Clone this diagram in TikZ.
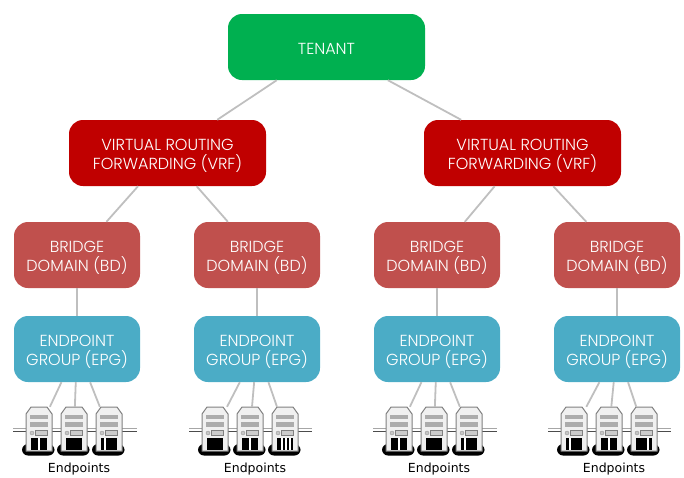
\documentclass[tikz,border=0pt]{standalone}
\usepackage{fontspec}
\setmainfont{Poppins Light}
\newfontfamily\labelfont{DejaVu Sans}
\definecolor{tenantgreen}{HTML}{00B050}
\definecolor{vrfred}{HTML}{C00000}
\definecolor{bdred}{HTML}{C0504D}
\definecolor{epgblue}{HTML}{4BACC6}
\definecolor{linkgrey}{HTML}{BFBFBF}

\tikzset{
	box node/.style={rectangle,rounded corners=14pt,text=white,align=center,
		font=\fontsize{16}{19.5}\selectfont,inner sep=0pt},
	big node/.style={box node,minimum width=197pt,minimum height=66pt},
	small node/.style={box node,minimum width=126pt,minimum height=66pt},
	link/.style={draw=linkgrey,line width=1.8pt},
	end label/.style={font=\labelfont\fontsize{12.5}{14}\selectfont},
	srv box/.style={rectangle,minimum width=26pt,minimum height=46pt,inner sep=0pt},
	pics/srvicon/.style={code={
		\fill[black,rounded corners=6pt] (-17,13) rectangle (15.5,24.5);
		\filldraw[draw=gray,fill=gray!12,line width=1pt] (-13,20) -- (-13,-17) -- (-8,-24) -- (8,-24) -- (13,-17) -- (13,20) -- cycle;
		\fill[gray!65] (-9,-16) rectangle (9,-12);
		\fill[gray!65] (-9,-9) rectangle (9,-4.5);
		\filldraw[draw=gray!80,fill=gray!45] (-7,2) circle (2);
		\filldraw[draw=gray,fill=gray!40,line width=0.5pt] (-4,-1) rectangle (8,4);
		\fill[black] (-8,6.5) rectangle (7.5,19);
		\foreach \g in {#1} {\fill[white] (\g-0.7,6.5) rectangle (\g+0.7,19);}
		\node[srv box] (-box) at (0,-1) {};
	}}
}
% pushes the box text down a little
\newcommand{\lowr}{\rule{0pt}{17pt}}
% two-strand ethernet line behind the servers
\newcommand{\wire}[2]{
	\draw[gray!70,line width=0.9pt] ([yshift=1.5pt]#1) -- ([yshift=1.5pt]#2);
	\draw[black!70,line width=1.6pt] ([yshift=-1.5pt]#1) -- ([yshift=-1.5pt]#2);
}

\begin{document}
\begin{tikzpicture}[x=1pt,y=-1pt,node distance=94pt]
	\useasboundingbox (0,0) rectangle (684,477);

	\node[big node] [fill=tenantgreen] (T) at (326.5,47) {\rule{0pt}{14pt}TENANT};
	\node[big node] [fill=vrfred] (V1) at (167.5,153) {\lowr VIRTUAL ROUTING\\FORWARDING (VRF)};
	\node[big node] [fill=vrfred] (V2) at (522.5,153) {\lowr VIRTUAL ROUTING\\FORWARDING (VRF)};

	\node[small node] [fill=bdred] (B1) at (77,255) {\lowr BRIDGE\\DOMAIN (BD)};
	\node[small node] [fill=bdred] (B2) at (257,255) {\lowr BRIDGE\\DOMAIN (BD)};
	\node[small node] [fill=bdred] (B3) at (437,255) {\lowr BRIDGE\\DOMAIN (BD)};
	\node[small node] [fill=bdred] (B4) at (617,255) {\lowr BRIDGE\\DOMAIN (BD)};

	\node[small node] [fill=epgblue] (E1) [below of=B1] {\lowr ENDPOINT\\GROUP (EPG)};
	\node[small node] [fill=epgblue] (E2) [below of=B2] {\lowr ENDPOINT\\GROUP (EPG)};
	\node[small node] [fill=epgblue] (E3) [below of=B3] {\lowr ENDPOINT\\GROUP (EPG)};
	\node[small node] [fill=epgblue] (E4) [below of=B4] {\lowr ENDPOINT\\GROUP (EPG)};

	% wires
	\coordinate (W1a) at (13,430);
	\coordinate (W1b) at (137,430);
	\coordinate (W2a) at (189,430);
	\coordinate (W2b) at (312,430);
	\coordinate (W3a) at (373,430);
	\coordinate (W3b) at (497,430);
	\coordinate (W4a) at (548,430);
	\coordinate (W4b) at (671,430);
	\wire{W1a}{W1b}
	\wire{W2a}{W2b}
	\wire{W3a}{W3b}
	\wire{W4a}{W4b}

	% servers
	\pic (S11) at (39,431) {srvicon={0}};
	\pic (S12) at (74,431) {srvicon={}};
	\pic (S13) at (109,431) {srvicon={-4}};
	\pic (S21) at (215,431) {srvicon={}};
	\pic (S22) at (250,431) {srvicon={0}};
	\pic (S23) at (285,431) {srvicon={-3,1,5}};
	\pic (S31) at (399,431) {srvicon={0}};
	\pic (S32) at (434,431) {srvicon={}};
	\pic (S33) at (469,431) {srvicon={-4}};
	\pic (S41) at (574,431) {srvicon={-4}};
	\pic (S42) at (609,431) {srvicon={0}};
	\pic (S43) at (644,431) {srvicon={4}};

	\node[end label] (L1) at (79,469) {Endpoints};
	\node[end label] (L2) at (255,469) {Endpoints};
	\node[end label] (L3) at (439,469) {Endpoints};
	\node[end label] (L4) at (614,469) {Endpoints};

	\path[link]
	(T) edge (V1)
	(T) edge (V2)
	(V1) edge (B1)
	(V1) edge (B2)
	(V2) edge (B3)
	(V2) edge (B4)
	(B1) edge (E1)
	(B2) edge (E2)
	(B3) edge (E3)
	(B4) edge (E4)
	(E1) edge (S11-box)
	(E1) edge (S12-box)
	(E1) edge (S13-box)
	(E2) edge (S21-box)
	(E2) edge (S22-box)
	(E2) edge (S23-box)
	(E3) edge (S31-box)
	(E3) edge (S32-box)
	(E3) edge (S33-box)
	(E4) edge (S41-box)
	(E4) edge (S42-box)
	(E4) edge (S43-box);
\end{tikzpicture}
\end{document}
